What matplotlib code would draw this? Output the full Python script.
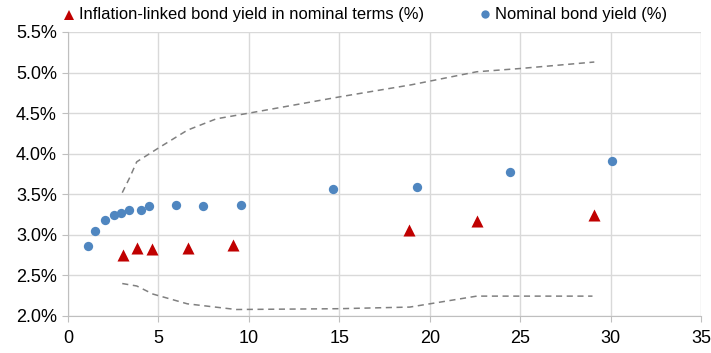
import matplotlib
matplotlib.use("Agg")
import matplotlib.pyplot as plt
from matplotlib.lines import Line2D
from matplotlib.ticker import FuncFormatter

plt.rcParams['font.family'] = ['Liberation Sans', 'DejaVu Sans']

# Nominal bond yields (maturity in years, yield %)
nom_x = [1.12, 1.47, 2.06, 2.54, 2.91, 3.39, 4.05, 4.48, 5.97, 7.48, 9.55, 14.63, 19.29, 24.45, 30.07]
nom_y = [2.86, 3.05, 3.18, 3.24, 3.27, 3.31, 3.31, 3.35, 3.37, 3.36, 3.37, 3.56, 3.59, 3.77, 3.91]

# Inflation-linked bond yields in nominal terms
il_x = [3.06, 3.80, 4.64, 6.65, 9.14, 18.87, 22.61, 29.11]
il_y = [2.75, 2.84, 2.82, 2.84, 2.87, 3.06, 3.17, 3.245]

# Upper / lower dashed bands
up_x = [3.0, 3.4, 3.8, 5.0, 6.6, 8.2, 10.0, 15.0, 19.0, 22.6, 25.0, 29.1]
up_y = [3.52, 3.70, 3.90, 4.07, 4.29, 4.43, 4.50, 4.70, 4.85, 5.01, 5.05, 5.13]
lo_x = [3.0, 3.8, 4.7, 6.6, 9.3, 15.0, 18.9, 20.0, 22.6, 29.0]
lo_y = [2.40, 2.37, 2.27, 2.15, 2.08, 2.09, 2.11, 2.15, 2.245, 2.245]

x_ticks = [0, 5, 10, 15, 20, 25, 30, 35]
y_ticks = [2.0, 2.5, 3.0, 3.5, 4.0, 4.5, 5.0, 5.5]

labels = ['Inflation-linked bond yield in nominal terms (%)', 'Nominal bond yield (%)']
red = '#C00000'
blue = '#4F86C0'

W, H = 711, 353
fig = plt.figure(figsize=(W/100, H/100), dpi=100)
ax = fig.add_axes([68/W, 1 - 316/H, (701-68)/W, (316-32)/H])

ax.plot(up_x, up_y, linestyle=(0, (4, 3)), color='#808080', linewidth=1.1, zorder=2)
ax.plot(lo_x, lo_y, linestyle=(0, (4, 3)), color='#808080', linewidth=1.1, zorder=2)
ax.scatter(il_x, il_y, marker='^', s=75, color=red, zorder=3, linewidths=0)
ax.scatter(nom_x, nom_y, marker='o', s=45, color=blue, zorder=3, linewidths=0)

ax.set_xlim(0, 35)
ax.set_ylim(2.0, 5.5)
ax.set_xticks(x_ticks)
ax.set_yticks(y_ticks)
ax.yaxis.set_major_formatter(FuncFormatter(lambda v, p: f"{v:.1f}%"))
ax.grid(True, color='#D9D9D9', linewidth=1)
ax.set_axisbelow(True)
for s in ['top', 'right']:
    ax.spines[s].set_visible(False)
for s in ['left', 'bottom']:
    ax.spines[s].set_color('#BFBFBF')
ax.tick_params(axis='both', which='both', length=4, color='#BFBFBF', labelsize=13, labelcolor='#000000')
ax.tick_params(axis='x', pad=6)
ax.tick_params(axis='y', pad=4)

# Manual legend
ly = 1 - 14/H
fig.add_artist(Line2D([69/W], [1 - 15/H], marker='^', markersize=7, color=red, linestyle='none',
                      markeredgewidth=0, transform=fig.transFigure))
fig.text(79/W, ly, labels[0], fontsize=11.9, va='center', ha='left')
fig.add_artist(Line2D([485/W], [1 - 14/H], marker='o', markersize=6, color=blue, linestyle='none',
                      markeredgewidth=0, transform=fig.transFigure))
fig.text(495/W, ly, labels[1], fontsize=11.9, va='center', ha='left')

fig.savefig('out.png', dpi=100)
